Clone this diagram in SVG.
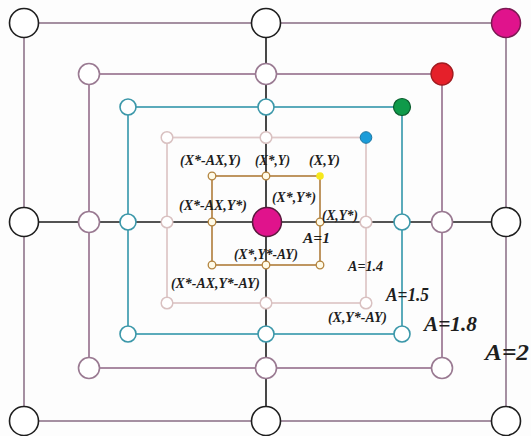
<svg xmlns="http://www.w3.org/2000/svg" width="531" height="436" viewBox="0 0 531 436">
<style>
.sq{fill:none;stroke-width:1.8}
.s2{stroke:#9c8498}.s18{stroke:#a07e98}.s15{stroke:#4aa2b4}.s14{stroke:#dfc9c9}.s1{stroke:#b98b50}
.ax{stroke:#1a1a1a;stroke-width:1.6}
.n2{fill:#fff;stroke:#1e1e1e;stroke-width:1.6}
.n18{fill:#fff;stroke:#9a7a92;stroke-width:1.6}
.n15{fill:#fff;stroke:#3b97a9;stroke-width:1.6}
.n14{fill:#fff;stroke:#d9c1c1;stroke-width:1.5}
.n1{fill:#fffbe8;stroke:#b3843f;stroke-width:1.3}
.lb{font-family:"Liberation Serif","Times New Roman",serif;font-weight:bold;font-style:italic;fill:#1e1e1e}
.sm{font-size:14px}
</style>
<rect width="531" height="436" fill="#fdfdfd"/>
<g id="connectors">
<rect class="sq s2" x="24" y="23" width="482" height="398"/>
<rect class="sq s18" x="89" y="74" width="353" height="294"/>
<rect class="sq s15" x="128" y="107" width="274" height="227"/>
<rect class="sq s14" x="167" y="137.5" width="199" height="165.5"/>
<rect class="sq s1" x="212" y="176" width="108" height="89"/>
<line class="ax" x1="24" y1="222" x2="506" y2="222"/>
<line class="ax" x1="266" y1="23" x2="266" y2="421"/>
</g>
<g id="ring2">
<circle class="n2" cx="24" cy="23" r="14.5"/>
<circle class="n2" cx="266" cy="23" r="14.5"/>
<circle cx="506" cy="23" r="14.5" fill="#e0138c" stroke="#7a1a52" stroke-width="1.5"/>
<circle class="n2" cx="24" cy="222" r="14.5"/>
<circle class="n2" cx="506" cy="222" r="14.5"/>
<circle class="n2" cx="24" cy="421" r="14.5"/>
<circle class="n2" cx="266" cy="421" r="14.5"/>
<circle class="n2" cx="506" cy="421" r="14.5"/>
</g>
<g id="ring18">
<circle class="n18" cx="89" cy="74" r="10.5"/>
<circle class="n18" cx="266" cy="74" r="10.5"/>
<circle cx="442" cy="74" r="11" fill="#e5202a" stroke="#a11b20" stroke-width="1.3"/>
<circle class="n18" cx="89" cy="222" r="10.5"/>
<circle class="n18" cx="442" cy="222" r="10.5"/>
<circle class="n18" cx="89" cy="368" r="10.5"/>
<circle class="n18" cx="266" cy="368" r="10.5"/>
<circle class="n18" cx="442" cy="368" r="10.5"/>
</g>
<g id="ring15">
<circle class="n15" cx="128" cy="107" r="8"/>
<circle class="n15" cx="266" cy="107" r="8"/>
<circle cx="402" cy="107" r="8.5" fill="#0f9a4a" stroke="#0b5c2e" stroke-width="1.2"/>
<circle class="n15" cx="128" cy="222" r="8"/>
<circle class="n15" cx="402" cy="222" r="8"/>
<circle class="n15" cx="128" cy="334" r="8"/>
<circle class="n15" cx="266" cy="334" r="8"/>
<circle class="n15" cx="402" cy="334" r="8"/>
</g>
<g id="ring14">
<circle class="n14" cx="167" cy="137.5" r="5.8"/>
<circle class="n14" cx="266" cy="137.5" r="5.8"/>
<circle cx="366" cy="137.5" r="5.8" fill="#1b9cd9" stroke="#1a74a0" stroke-width="1"/>
<circle class="n14" cx="167" cy="222" r="5.8"/>
<circle class="n14" cx="366" cy="222" r="5.8"/>
<circle class="n14" cx="167" cy="303" r="5.8"/>
<circle class="n14" cx="266" cy="303" r="5.8"/>
<circle class="n14" cx="366" cy="303" r="5.8"/>
</g>
<g id="ring1">
<circle class="n1" cx="212" cy="176" r="3.8"/>
<circle class="n1" cx="266" cy="176" r="3.8"/>
<circle cx="320" cy="176" r="3.8" fill="#f6e81c"/>
<circle class="n1" cx="212" cy="222" r="3.8"/>
<circle class="n1" cx="320" cy="222" r="3.8"/>
<circle class="n1" cx="212" cy="265" r="3.8"/>
<circle class="n1" cx="266" cy="265" r="3.8"/>
<circle class="n1" cx="320" cy="265" r="3.8"/>
</g>
<g id="center">
<circle cx="267" cy="222" r="14.5" fill="#e0138c" stroke="#5a1a3e" stroke-width="1.5"/>
</g>
<g id="labels">
<text class="lb sm" x="180" y="165" textLength="61" lengthAdjust="spacingAndGlyphs">(X*-AX,Y)</text>
<text class="lb sm" x="255" y="165" textLength="35" lengthAdjust="spacingAndGlyphs">(X*,Y)</text>
<text class="lb sm" x="309" y="165" textLength="31" lengthAdjust="spacingAndGlyphs">(X,Y)</text>
<text class="lb sm" x="272" y="202" textLength="44" lengthAdjust="spacingAndGlyphs">(X*,Y*)</text>
<text class="lb sm" x="179" y="210" textLength="68" lengthAdjust="spacingAndGlyphs">(X*-AX,Y*)</text>
<text class="lb sm" x="322" y="220" textLength="36" lengthAdjust="spacingAndGlyphs">(X,Y*)</text>
<text class="lb sm" x="303" y="243" textLength="27" lengthAdjust="spacingAndGlyphs">A=1</text>
<text class="lb sm" x="234" y="259" textLength="64" lengthAdjust="spacingAndGlyphs">(X*,Y*-AY)</text>
<text class="lb sm" x="171" y="288" textLength="89" lengthAdjust="spacingAndGlyphs">(X*-AX,Y*-AY)</text>
<text class="lb sm" x="348" y="271" textLength="35" lengthAdjust="spacingAndGlyphs">A=1.4</text>
<text class="lb" x="386" y="301" font-size="18" textLength="43" lengthAdjust="spacingAndGlyphs">A=1.5</text>
<text class="lb sm" x="328" y="322" textLength="59" lengthAdjust="spacingAndGlyphs">(X,Y*-AY)</text>
<text class="lb" x="424" y="331" font-size="21" textLength="53" lengthAdjust="spacingAndGlyphs">A=1.8</text>
<text class="lb" x="485" y="360" font-size="24" textLength="44" lengthAdjust="spacingAndGlyphs">A=2</text>
</g>
</svg>
